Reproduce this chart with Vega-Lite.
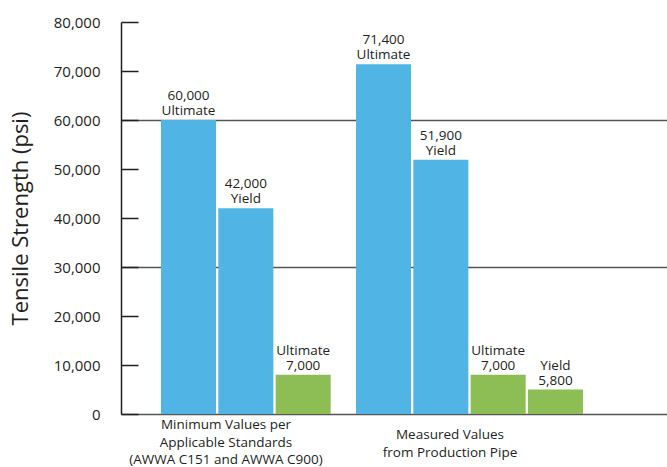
{
  "$schema": "https://vega.github.io/schema/vega-lite/v6.json",
  "width": 546,
  "height": 392,
  "autosize": "none",
  "padding": {"left": 121, "top": 22, "right": 0, "bottom": 53},
  "background": "white",
  "config": {
    "view": {"stroke": null},
    "font": "Open Sans",
    "text": {"font": "Open Sans", "color": "#231F20"}
  },
  "datasets": {
    "bars": [
      {"group": "Minimum", "series": "DI Ultimate", "material": "Ductile Iron", "value": 60000, "label": "60,000|Ultimate"},
      {"group": "Minimum", "series": "DI Yield", "material": "Ductile Iron", "value": 42000, "label": "42,000|Yield"},
      {"group": "Minimum", "series": "PVC Ultimate", "material": "PVC", "value": 8000, "label": "Ultimate|7,000"},
      {"group": "Measured", "series": "DI Ultimate", "material": "Ductile Iron", "value": 71400, "label": "71,400|Ultimate"},
      {"group": "Measured", "series": "DI Yield", "material": "Ductile Iron", "value": 51900, "label": "51,900|Yield"},
      {"group": "Measured", "series": "PVC Ultimate", "material": "PVC", "value": 8000, "label": "Ultimate|7,000"},
      {"group": "Measured", "series": "PVC Yield", "material": "PVC", "value": 5000, "label": "Yield|5,800"}
    ],
    "groups": [
      {"group": "Minimum", "text": "Minimum Values per|Applicable Standards|(AWWA C151 and AWWA C900)"},
      {"group": "Measured", "text": "Measured Values|from Production Pipe"}
    ]
  },
  "resolve": {"scale": {"x": "independent"}},
  "layer": [
    {
      "data": {"name": "bars"},
      "encoding": {
        "x": {
          "field": "group", "type": "nominal", "sort": ["Minimum", "Measured"],
          "scale": {"paddingInner": 0, "paddingOuter": 0.4, "align": 0.2564},
          "axis": null
        },
        "xOffset": {
          "field": "series", "type": "nominal",
          "sort": ["DI Ultimate", "DI Yield", "PVC Ultimate", "PVC Yield"],
          "scale": {"range": [0, 227], "paddingInner": 0.04, "paddingOuter": 0}
        },
        "y": {
          "field": "value", "type": "quantitative",
          "scale": {"domain": [0, 80000], "nice": false},
          "axis": {
            "values": [0, 10000, 20000, 30000, 40000, 50000, 60000, 70000, 80000],
            "format": ",.0f",
            "title": "Tensile Strength (psi)",
            "titleFont": "Open Sans",
            "titleFontSize": 22,
            "titleFontWeight": "normal",
            "titleColor": "#231F20",
            "titleX": -89,
            "labelFont": "Open Sans",
            "labelFontSize": 15,
            "labelColor": "#231F20",
            "labelPadding": 38,
            "tickSize": -17,
            "tickColor": "#231F20",
            "tickWidth": 1.5,
            "domainColor": "#231F20",
            "domainWidth": 1.5,
            "grid": true,
            "gridColor": "#555555",
            "gridWidth": 1.5,
            "gridOpacity": {"condition": {"test": "datum.value === 0 || datum.value === 30000 || datum.value === 60000", "value": 1}, "value": 0}
          }
        }
      },
      "layer": [
        {
          "mark": {"type": "bar"},
          "encoding": {
            "color": {
              "field": "material", "type": "nominal",
              "scale": {"domain": ["Ductile Iron", "PVC"], "range": ["#50B4E4", "#8CBE55"]},
              "legend": null
            }
          }
        },
        {
          "mark": {"type": "text", "baseline": "bottom", "dy": -17, "fontSize": 13.5, "lineBreak": "|", "lineHeight": 15},
          "encoding": {
            "text": {"field": "label"}
          }
        }
      ]
    },
    {
      "data": {"name": "groups"},
      "encoding": {
        "x": {
          "field": "group", "type": "nominal", "sort": ["Minimum", "Measured"],
          "scale": {"range": [-7, 441], "paddingInner": 0, "paddingOuter": 0},
          "axis": null
        },
        "y": {"datum": 0, "type": "quantitative"},
        "text": {"field": "text"}
      },
      "layer": [
        {
          "transform": [{"filter": "datum.group === 'Minimum'"}],
          "mark": {"type": "text", "baseline": "middle", "dy": 11, "fontSize": 13.5, "lineBreak": "|", "lineHeight": 17.5}
        },
        {
          "transform": [{"filter": "datum.group === 'Measured'"}],
          "mark": {"type": "text", "baseline": "middle", "dy": 21, "fontSize": 13.5, "lineBreak": "|", "lineHeight": 17.5}
        }
      ]
    }
  ]
}
